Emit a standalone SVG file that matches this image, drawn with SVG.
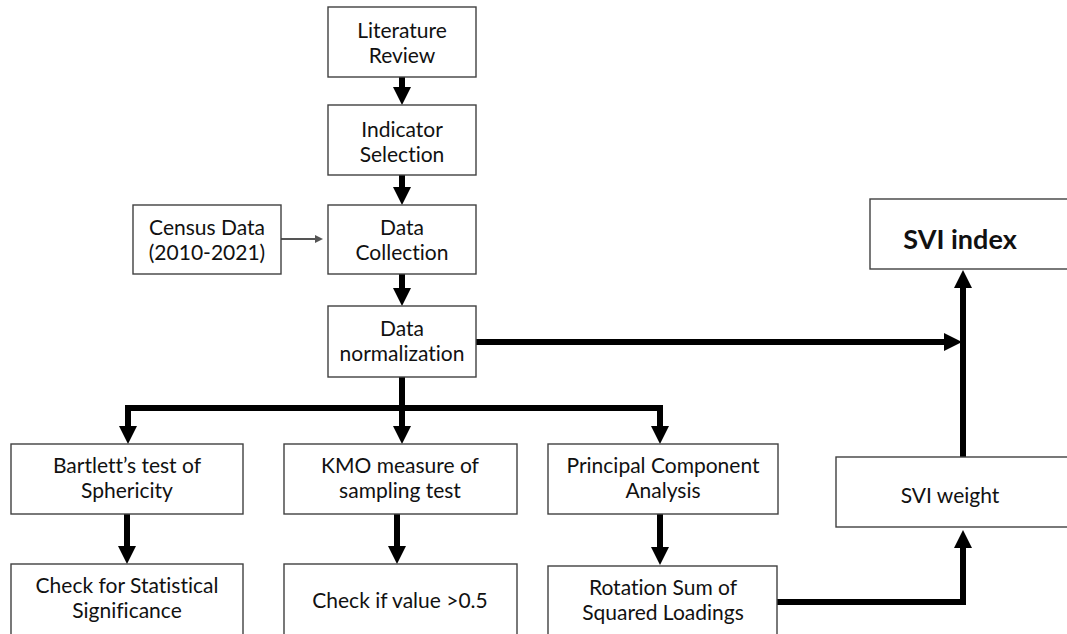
<svg xmlns="http://www.w3.org/2000/svg" width="1067" height="634" viewBox="0 0 1067 634">
<style>
.box{fill:#fff;stroke:#404040;stroke-width:1.4}
.t{font-family:Lato,"Liberation Sans",sans-serif;font-size:21px;fill:#111;text-anchor:middle;font-variant-ligatures:none}
.b{font-family:Lato,"Liberation Sans",sans-serif;font-size:27px;font-weight:bold;fill:#111;text-anchor:middle}
.c{fill:none;stroke:#000;stroke-width:6;stroke-linecap:butt;stroke-linejoin:miter}
.thin{fill:none;stroke:#555;stroke-width:2}
</style>
<defs>
<marker id="ah" markerUnits="userSpaceOnUse" markerWidth="18" markerHeight="18" refX="8" refY="9" orient="auto-start-reverse"><path d="M0,0 L18,9 L0,18 z" fill="#000"/></marker>
<marker id="ahs" markerUnits="userSpaceOnUse" markerWidth="8" markerHeight="8" refX="6" refY="4" orient="auto"><path d="M0,0 L8,4 L0,8 z" fill="#555"/></marker>
</defs>
<rect width="1067" height="634" fill="#fff"/>
<g id="connectors">
<path class="c" d="M402,77 V95" marker-end="url(#ah)"/>
<path class="c" d="M402,175 V195" marker-end="url(#ah)"/>
<path class="thin" d="M281,239 H321" marker-end="url(#ahs)"/>
<path class="c" d="M402,274 V296" marker-end="url(#ah)"/>
<path class="c" d="M476,342 H952" marker-end="url(#ah)"/>
<path class="c" d="M402,377 V434" marker-end="url(#ah)"/>
<path class="c" d="M128,434 V408 H660 V434" marker-start="url(#ah)" marker-end="url(#ah)"/>
<path class="c" d="M127,514 V554" marker-end="url(#ah)"/>
<path class="c" d="M397,514 V554" marker-end="url(#ah)"/>
<path class="c" d="M660,514 V555" marker-end="url(#ah)"/>
<path class="c" d="M777,602 H963 V540" marker-end="url(#ah)"/>
<path class="c" d="M963,457 V280" marker-end="url(#ah)"/>
</g>
<g id="literature-review"><rect class="box" x="328" y="7" width="148" height="70"/><text class="t" x="402" y="38">Literature</text><text class="t" x="402" y="63">Review</text></g>
<g id="indicator-selection"><rect class="box" x="328" y="105" width="148" height="70"/><text class="t" x="402" y="137">Indicator</text><text class="t" x="402" y="162">Selection</text></g>
<g id="census-data"><rect class="box" x="133" y="205" width="148" height="69"/><text class="t" x="207" y="235">Census Data</text><text class="t" x="207" y="260">(2010-2021)</text></g>
<g id="data-collection"><rect class="box" x="328" y="205" width="148" height="69"/><text class="t" x="402" y="235">Data</text><text class="t" x="402" y="260">Collection</text></g>
<g id="data-normalization"><rect class="box" x="328" y="306" width="148" height="71"/><text class="t" x="402" y="336">Data</text><text class="t" x="402" y="361">normalization</text></g>
<g id="bartlett"><rect class="box" x="11" y="444" width="232" height="70"/><text class="t" x="127" y="473">Bartlett’s test of</text><text class="t" x="127" y="498">Sphericity</text></g>
<g id="kmo"><rect class="box" x="284" y="444" width="233" height="70"/><text class="t" x="400" y="473">KMO measure of</text><text class="t" x="400" y="498">sampling test</text></g>
<g id="pca"><rect class="box" x="548" y="444" width="230" height="70"/><text class="t" x="663" y="473">Principal Component</text><text class="t" x="663" y="498">Analysis</text></g>
<g id="check-significance"><rect class="box" x="11" y="564" width="232" height="80"/><text class="t" x="127" y="593">Check for Statistical</text><text class="t" x="127" y="618">Significance</text></g>
<g id="check-value"><rect class="box" x="284" y="564" width="233" height="80"/><text class="t" x="400" y="608">Check if value &gt;0.5</text></g>
<g id="rotation"><rect class="box" x="548" y="566" width="229" height="80"/><text class="t" x="663" y="595">Rotation Sum of</text><text class="t" x="663" y="620">Squared Loadings</text></g>
<g id="svi-weight"><rect class="box" x="836" y="457" width="240" height="70"/><text class="t" x="950" y="503">SVI weight</text></g>
<g id="svi-index"><rect class="box" x="870" y="199" width="210" height="70"/><text class="b" x="960" y="249">SVI index</text></g>
</svg>
